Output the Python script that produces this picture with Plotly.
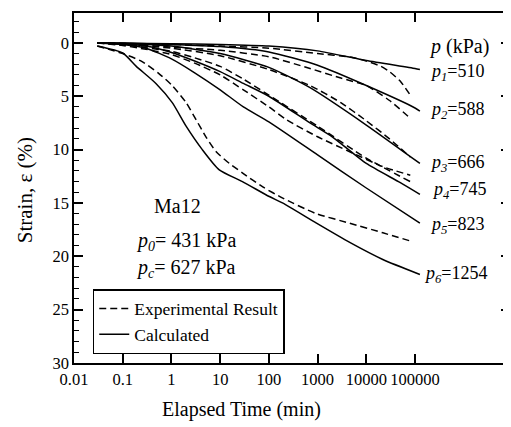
import plotly.graph_objects as go

# ---------- data (time in min, strain in %) ----------
p1_calc_t = [0.03, 0.1, 1, 10, 100, 1000, 10000, 100000, 126000]
p1_calc_e = [0.0, 0.02, 0.08, 0.15, 0.3, 0.75, 1.65, 2.4, 2.5]
p1_exp_t = [0.03, 0.1, 1, 10, 100, 1000, 5000, 10000, 20000, 30000, 50000, 80000]
p1_exp_e = [0.0, 0.05, 0.15, 0.3, 0.5, 1.0, 1.35, 1.7, 2.2, 2.7, 3.6, 4.9]

p2_calc_t = [0.03, 0.1, 1, 10, 100, 1000, 10000, 100000, 126000]
p2_calc_e = [0.0, 0.03, 0.15, 0.35, 0.85, 2.1, 4.0, 6.1, 6.4]
p2_exp_t = [0.03, 0.1, 1, 10, 100, 700, 3000, 10000, 30000, 80000]
p2_exp_e = [0.0, 0.1, 0.4, 0.7, 1.3, 2.4, 3.3, 4.0, 5.4, 7.06]

p3_calc_t = [0.03, 0.1, 1, 10, 100, 700, 10000, 126000]
p3_calc_e = [0.0, 0.05, 0.3, 1.0, 2.3, 4.2, 7.7, 11.3]
p3_exp_t = [0.03, 0.1, 1, 10, 100, 700, 3000, 10000, 30000, 80000]
p3_exp_e = [0.0, 0.15, 0.5, 1.2, 2.5, 4.0, 5.6, 7.3, 9.0, 10.7]

p4_calc_t = [0.03, 0.1, 0.3, 1, 3, 10, 30, 100, 700, 2000, 10000, 50000, 126000]
p4_calc_e = [0.0, 0.1, 0.3, 0.9, 1.7, 2.7, 3.8, 5.0, 7.5, 8.8, 11.3, 13.1, 14.2]
p4_exp_t = [0.03, 0.1, 0.3, 1, 3, 10, 30, 100, 1000, 10000, 80000]
p4_exp_e = [0.0, 0.2, 0.45, 0.8, 1.4, 2.2, 3.4, 4.9, 7.8, 10.8, 13.0]

p5_calc_t = [0.03, 0.1, 0.3, 1, 3, 10, 30, 100, 1000, 10000, 126000]
p5_calc_e = [0.0, 0.15, 0.5, 1.5, 2.8, 4.4, 6.0, 7.4, 10.5, 13.6, 16.9]
p5_exp_t = [0.03, 0.1, 0.3, 1, 3, 10, 30, 100, 230, 1000, 4570, 21800, 80000]
p5_exp_e = [0.0, 0.25, 0.6, 1.1, 1.9, 3.0, 4.4, 6.0, 7.2, 8.8, 10.2, 11.6, 12.4]

p6_calc_t = [0.03, 0.1, 0.19, 0.48, 1.04, 2.0, 4.3, 9.6, 28.6, 102, 190, 950, 4570, 21800, 126000]
p6_calc_e = [0.3, 0.95, 2.2, 3.8, 5.6, 7.8, 10.0, 11.9, 13.0, 14.4, 15.0, 16.9, 18.7, 20.3, 21.7]
p6_exp_t = [0.03, 0.1, 0.25, 0.56, 1.04, 2.0, 3.2, 5.1, 8.3, 15.5, 29, 75, 193, 935, 4570, 21900, 85000]
p6_exp_e = [0.3, 1.0, 1.75, 2.9, 4.0, 5.6, 7.2, 8.8, 10.2, 11.3, 12.2, 13.5, 14.55, 16.0, 16.9, 17.8, 18.6]

x_tick_vals = [0.01, 0.1, 1, 10, 100, 1000, 10000, 100000]
x_tick_text = ["0.01", "0.1", "1", "10", "100", "1000", "10000", "100000"]
y_tick_vals = [0, 5, 10, 15, 20, 25, 30]

curve_labels = ["<i>p<sub>1</sub></i>=510", "<i>p<sub>2</sub></i>=588", "<i>p<sub>3</sub></i>=666",
                "<i>p<sub>4</sub></i>=745", "<i>p<sub>5</sub></i>=823", "<i>p<sub>6</sub></i>=1254"]

FONT = "Liberation Serif"
DASH = "7px,4px"

calc = [(p1_calc_t, p1_calc_e), (p2_calc_t, p2_calc_e), (p3_calc_t, p3_calc_e),
        (p4_calc_t, p4_calc_e), (p5_calc_t, p5_calc_e), (p6_calc_t, p6_calc_e)]
exp = [(p1_exp_t, p1_exp_e), (p2_exp_t, p2_exp_e), (p3_exp_t, p3_exp_e),
       (p4_exp_t, p4_exp_e), (p5_exp_t, p5_exp_e), (p6_exp_t, p6_exp_e)]

fig = go.Figure()
for i, (t, e) in enumerate(exp):
    fig.add_trace(go.Scatter(x=t, y=e, mode="lines", line=dict(color="black", width=1.5, dash=DASH, shape="spline", smoothing=0.6),
                             name="Experimental Result", showlegend=(i == 0), legendrank=1))
for i, (t, e) in enumerate(calc):
    fig.add_trace(go.Scatter(x=t, y=e, mode="lines", line=dict(color="black", width=1.5, shape="spline", smoothing=0.6),
                             name="Calculated", showlegend=(i == 0), legendrank=2))

# curve labels (x in log10 units, y in strain)
label_pos = [(5.26, 2.8), (5.26, 6.3), (5.26, 11.3), (5.31, 13.8), (5.26, 17.1), (5.15, 21.7)]
for txt, (lx, ly) in zip(curve_labels, label_pos):
    fig.add_annotation(x=lx, y=ly, xref="x", yref="y", text=txt, showarrow=False, xanchor="left",
                       yanchor="middle", font=dict(family=FONT, size=18, color="black"))
fig.add_annotation(x=5.24, y=0.35, xref="x", yref="y", text="<i>p</i> (kPa)", showarrow=False,
                   xanchor="left", yanchor="middle", font=dict(family=FONT, size=20, color="black"))
fig.add_annotation(x=-0.4, y=15.3, xref="x", yref="y", text="Ma12", showarrow=False,
                   xanchor="left", yanchor="middle", font=dict(family=FONT, size=20, color="black"))
fig.add_annotation(x=-0.76, y=18.6, xref="x", yref="y", text="<i>p<sub>0</sub></i>= 431 kPa", showarrow=False,
                   xanchor="left", yanchor="middle", font=dict(family=FONT, size=20, color="black"))
fig.add_annotation(x=-0.76, y=21.1, xref="x", yref="y", text="<i>p<sub>c</sub></i>= 627 kPa", showarrow=False,
                   xanchor="left", yanchor="middle", font=dict(family=FONT, size=20, color="black"))

# axis titles (placed as in the reference: x title centred under the labelled decades)
fig.add_annotation(x=0.385, y=-0.134, xref="paper", yref="paper", text="Elapsed Time (min)", showarrow=False,
                   xanchor="center", yanchor="middle", font=dict(family=FONT, size=20, color="black"))
fig.add_annotation(x=-0.112, y=0.494, xref="paper", yref="paper", text="Strain, ε (%)", showarrow=False,
                   textangle=-90, xanchor="center", yanchor="middle", font=dict(family=FONT, size=21, color="black"))

axis_common = dict(showline=True, linecolor="black", linewidth=1.5, mirror="ticks", ticks="inside",
                   tickcolor="black", tickwidth=1.5, ticklen=9, showgrid=False, zeroline=False,
                   automargin=False, tickangle=0,
                   tickfont=dict(family=FONT, size=16.5, color="black"))

fig.update_xaxes(type="log", range=[-2, 6.95], tickvals=x_tick_vals, ticktext=x_tick_text, **axis_common)
fig.update_yaxes(range=[30, -2.8], tickvals=y_tick_vals,
                 minor=dict(dtick=1, ticks="inside", ticklen=5, tickcolor="black", tickwidth=1.2),
                 **axis_common)

# the page body has an 8px default margin, so the figure is sized to fit the window
fig.update_layout(
    width=503, height=419,
    margin=dict(l=66, r=1, t=5, b=64, autoexpand=False),
    paper_bgcolor="white", plot_bgcolor="white",
    showlegend=True,
    legend=dict(x=0.043, y=0.211, xanchor="left", yanchor="top", bgcolor="white",
                bordercolor="black", borderwidth=1.5, tracegroupgap=0,
                font=dict(family=FONT, size=17.5, color="black"), itemwidth=30),
    font=dict(family=FONT, color="black"),
)

fig.write_html("out.html")
